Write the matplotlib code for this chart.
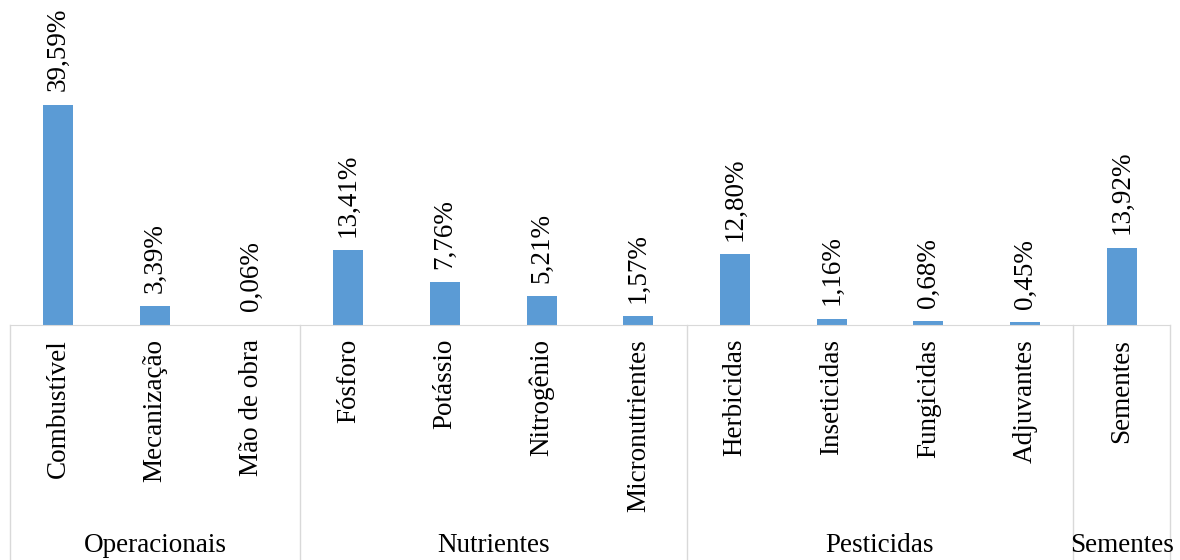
import matplotlib.pyplot as plt
from matplotlib.transforms import blended_transform_factory

plt.rcParams['font.family'] = ['Liberation Serif', 'DejaVu Serif']

itens = ['Combustível', 'Mecanização', 'Mão de obra', 'Fósforo', 'Potássio', 'Nitrogênio',
         'Micronutrientes', 'Herbicidas', 'Inseticidas', 'Fungicidas', 'Adjuvantes', 'Sementes']
valores = [39.59, 3.39, 0.06, 13.41, 7.76, 5.21, 1.57, 12.80, 1.16, 0.68, 0.45, 13.92]
grupos = ['Operacionais', 'Nutrientes', 'Pesticidas', 'Sementes']
tamanho_grupo = [3, 4, 4, 1]

fig = plt.figure(figsize=(11.8, 5.6), dpi=100)
ax = fig.add_axes([10 / 1180, 235 / 560, 1160 / 1180, 325 / 560])

x = list(range(len(itens)))
ax.bar(x, valores, width=0.31, color='#5B9BD5')
for xi, v in zip(x, valores):
    rotulo = f'{v:.2f}%'.replace('.', ',')
    ax.annotate(rotulo, (xi, v), xytext=(0, 9.5), textcoords='offset points',
                rotation=90, ha='center', va='bottom', fontsize=19.5)

ax.set_xlim(-0.5, len(itens) - 0.5)
ax.set_ylim(0, 58.4)
ax.set_yticks([])
ax.set_xticks(x)
ax.set_xticklabels(itens, rotation=90, fontsize=19.5)
ax.tick_params(axis='x', length=0, pad=10)
for s in ['top', 'left', 'right']:
    ax.spines[s].set_visible(False)
ax.spines['bottom'].set_color('#d9d9d9')

# separadores e nomes dos grupos
trans = blended_transform_factory(ax.transData, fig.transFigure)
inicio = -0.5
ax.plot([inicio, inicio], [0, 235 / 560], transform=trans, color='#d9d9d9', lw=1, clip_on=False)
for nome, n in zip(grupos, tamanho_grupo):
    fim = inicio + n
    ax.plot([fim, fim], [0, 235 / 560], transform=trans, color='#d9d9d9', lw=1, clip_on=False)
    ax.text((inicio + fim) / 2, 14 / 560, nome, transform=trans, ha='center', va='center', fontsize=19.5)
    inicio = fim

fig.savefig('out.png', dpi=100)
